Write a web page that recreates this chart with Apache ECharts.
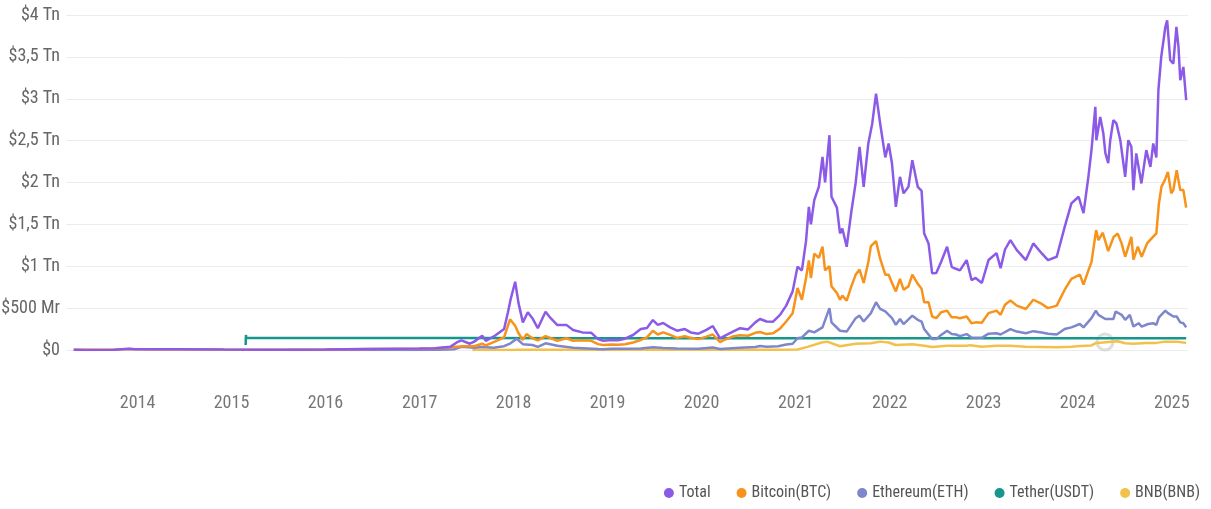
<!DOCTYPE html>
<html>
<head>
<meta charset="utf-8">
<script src="https://cdn.jsdelivr.net/npm/echarts@6/dist/echarts.min.js"></script>
<style>
  html, body { margin: 0; padding: 0; background: #ffffff; }
  #chart { width: 1211px; height: 509px; }
</style>
</head>
<body>
<div id="chart"></div>
<script>
// Values in billions of USD
var yTickLabels = ['$0', '$500 Mr', '$1 Tn', '$1,5 Tn', '$2 Tn', '$2,5 Tn', '$3 Tn', '$3,5 Tn', '$4 Tn'];
var seriesNames = ['Total', 'Bitcoin(BTC)', 'Ethereum(ETH)', 'Tether(USDT)', 'BNB(BNB)'];

var totalData = [
  ['2013-04-28', 1.6], ['2013-06-15', 1.3], ['2013-10-01', 1.8], ['2013-11-30', 15], ['2013-12-20', 9],
  ['2014-02-01', 10], ['2014-06-01', 9], ['2014-12-01', 5.5], ['2015-06-01', 3.8], ['2016-01-01', 7],
  ['2016-06-15', 13], ['2016-12-31', 17.5], ['2017-03-01', 22], ['2017-05-01', 40], ['2017-05-25', 90],
  ['2017-06-12', 115], ['2017-07-15', 75], ['2017-08-01', 100], ['2017-09-01', 170], ['2017-09-15', 110],
  ['2017-10-20', 170], ['2017-11-25', 250], ['2017-12-10', 450], ['2017-12-20', 600], ['2018-01-07', 815],
  ['2018-01-20', 560], ['2018-02-06', 330], ['2018-02-25', 450], ['2018-03-15', 380], ['2018-04-05', 260],
  ['2018-05-05', 457], ['2018-05-25', 380], ['2018-06-20', 298], ['2018-07-25', 300], ['2018-08-20', 238],
  ['2018-09-25', 210], ['2018-10-30', 205], ['2018-11-25', 130], ['2018-12-15', 110], ['2019-01-15', 120],
  ['2019-02-10', 115], ['2019-03-10', 135], ['2019-04-10', 179], ['2019-05-10', 250], ['2019-06-03', 262],
  ['2019-06-26', 358], ['2019-07-15', 300], ['2019-08-05', 322], ['2019-09-01', 270], ['2019-09-28', 230],
  ['2019-10-28', 250], ['2019-11-20', 210], ['2019-12-20', 195], ['2020-01-20', 240], ['2020-02-14', 286],
  ['2020-03-13', 140], ['2020-03-25', 160], ['2020-04-30', 215], ['2020-05-30', 260], ['2020-06-30', 245],
  ['2020-07-28', 330], ['2020-08-15', 370], ['2020-09-10', 340], ['2020-10-05', 338], ['2020-11-01', 420],
  ['2020-11-25', 530], ['2020-12-20', 700], ['2021-01-08', 994], ['2021-01-25', 950], ['2021-02-10', 1300],
  ['2021-02-21', 1710], ['2021-03-01', 1500], ['2021-03-14', 1790], ['2021-04-01', 1950], ['2021-04-15', 2306],
  ['2021-04-25', 2000], ['2021-05-12', 2565], ['2021-05-20', 1830], ['2021-06-10', 1700], ['2021-06-22', 1392],
  ['2021-07-01', 1450], ['2021-07-18', 1233], ['2021-08-05', 1650], ['2021-08-22', 2000], ['2021-09-06', 2426],
  ['2021-09-22', 1948], ['2021-10-10', 2466], ['2021-10-25', 2700], ['2021-11-09', 3062], ['2021-11-25', 2705],
  ['2021-12-15', 2300], ['2021-12-28', 2466], ['2022-01-10', 2227], ['2022-01-25', 1710], ['2022-02-10', 2068],
  ['2022-02-24', 1870], ['2022-03-15', 1950], ['2022-03-30', 2267], ['2022-04-20', 1948], ['2022-05-05', 1900],
  ['2022-05-15', 1392], ['2022-06-01', 1273], ['2022-06-15', 915], ['2022-07-01', 920], ['2022-07-20', 1054],
  ['2022-08-12', 1233], ['2022-08-30', 994], ['2022-09-15', 970], ['2022-10-01', 950], ['2022-10-27', 1074],
  ['2022-11-15', 835], ['2022-12-01', 860], ['2022-12-25', 800], ['2023-01-20', 1074], ['2023-02-20', 1157],
  ['2023-03-08', 978], ['2023-03-25', 1200], ['2023-04-15', 1312], ['2023-05-10', 1193], ['2023-06-14', 1074],
  ['2023-07-13', 1273], ['2023-08-15', 1153], ['2023-09-08', 1074], ['2023-10-12', 1113], ['2023-11-12', 1471],
  ['2023-12-08', 1750], ['2024-01-05', 1830], ['2024-01-24', 1634], ['2024-02-12', 2068], ['2024-02-24', 2386],
  ['2024-03-10', 2903], ['2024-03-14', 2505], ['2024-03-29', 2783], ['2024-04-10', 2588], ['2024-04-18', 2350],
  ['2024-04-29', 2230], ['2024-05-07', 2505], ['2024-05-19', 2744], ['2024-05-31', 2705], ['2024-06-15', 2505],
  ['2024-07-04', 2068], ['2024-07-16', 2505], ['2024-07-28', 2426], ['2024-08-05', 1909], ['2024-08-16', 2347],
  ['2024-09-05', 1989], ['2024-09-24', 2386], ['2024-10-10', 2187], ['2024-10-21', 2466], ['2024-11-02', 2300],
  ['2024-11-10', 3102], ['2024-11-21', 3500], ['2024-12-07', 3857], ['2024-12-14', 3937], ['2024-12-26', 3460],
  ['2025-01-07', 3420], ['2025-01-19', 3857], ['2025-01-27', 3620], ['2025-02-03', 3221], ['2025-02-15', 3380],
  ['2025-02-26', 2983]
];

var btcData = [
  ['2013-04-28', 1.5], ['2013-10-01', 1.6], ['2013-11-30', 13], ['2013-12-20', 8], ['2014-03-01', 7],
  ['2014-06-01', 8], ['2014-12-01', 5], ['2015-06-01', 3.5], ['2016-01-01', 6.5], ['2016-06-15', 11],
  ['2016-12-31', 15], ['2017-03-01', 19], ['2017-05-25', 40], ['2017-06-20', 45], ['2017-08-01', 45],
  ['2017-09-01', 75], ['2017-09-15', 55], ['2017-10-20', 100], ['2017-11-25', 150], ['2017-12-18', 366],
  ['2018-01-07', 290], ['2018-01-20', 200], ['2018-02-06', 120], ['2018-02-20', 190], ['2018-03-15', 140],
  ['2018-04-05', 115], ['2018-05-05', 165], ['2018-06-20', 110], ['2018-07-25', 140], ['2018-08-20', 110],
  ['2018-09-25', 115], ['2018-10-30', 110], ['2018-11-25', 70], ['2018-12-15', 60], ['2019-01-15', 65],
  ['2019-02-10', 63], ['2019-03-10', 68], ['2019-04-10', 90], ['2019-05-10', 120], ['2019-06-03', 150],
  ['2019-06-26', 230], ['2019-07-15', 185], ['2019-08-05', 210], ['2019-09-01', 180], ['2019-09-28', 145],
  ['2019-10-28', 165], ['2019-11-20', 145], ['2019-12-20', 130], ['2020-01-20', 160], ['2020-02-14', 185],
  ['2020-03-13', 95], ['2020-03-25', 115], ['2020-04-30', 160], ['2020-05-30', 175], ['2020-06-30', 170],
  ['2020-07-28', 205], ['2020-08-15', 215], ['2020-09-10', 190], ['2020-10-05', 200], ['2020-11-01', 255],
  ['2020-11-25', 340], ['2020-12-20', 440], ['2021-01-08', 740], ['2021-01-25', 600], ['2021-02-10', 860],
  ['2021-02-21', 1070], ['2021-03-01', 860], ['2021-03-14', 1150], ['2021-04-01', 1100], ['2021-04-15', 1233],
  ['2021-04-25', 950], ['2021-05-12', 1000], ['2021-05-20', 760], ['2021-06-10', 680], ['2021-06-22', 600],
  ['2021-07-01', 650], ['2021-07-18', 590], ['2021-08-05', 760], ['2021-08-22', 900], ['2021-09-06', 960],
  ['2021-09-22', 800], ['2021-10-10', 1050], ['2021-10-20', 1240], ['2021-11-09', 1300], ['2021-11-25', 1090],
  ['2021-12-15', 900], ['2021-12-28', 900], ['2022-01-10', 800], ['2022-01-25', 700], ['2022-02-10', 850],
  ['2022-02-24', 720], ['2022-03-15', 760], ['2022-03-30', 900], ['2022-04-20', 790], ['2022-05-05', 730],
  ['2022-05-15', 570], ['2022-06-01', 570], ['2022-06-15', 400], ['2022-07-01', 380], ['2022-07-20', 450],
  ['2022-08-12', 470], ['2022-08-30', 390], ['2022-09-15', 390], ['2022-10-01', 380], ['2022-10-27', 400],
  ['2022-11-15', 320], ['2022-12-01', 330], ['2022-12-25', 325], ['2023-01-20', 440], ['2023-02-20', 470],
  ['2023-03-08', 420], ['2023-03-25', 540], ['2023-04-15', 590], ['2023-05-10', 530], ['2023-06-14', 490],
  ['2023-07-13', 600], ['2023-08-15', 550], ['2023-09-08', 500], ['2023-10-12', 530], ['2023-11-12', 720],
  ['2023-12-08', 850], ['2024-01-10', 900], ['2024-01-24', 780], ['2024-02-12', 950], ['2024-02-24', 1050],
  ['2024-03-13', 1431], ['2024-03-22', 1312], ['2024-04-08', 1400], ['2024-04-29', 1180], ['2024-05-20', 1350],
  ['2024-06-05', 1390], ['2024-06-20', 1273], ['2024-07-04', 1113], ['2024-07-28', 1352], ['2024-08-05', 1080],
  ['2024-08-22', 1233], ['2024-09-06', 1113], ['2024-09-27', 1273], ['2024-10-20', 1350], ['2024-11-02', 1392],
  ['2024-11-12', 1750], ['2024-11-22', 1950], ['2024-12-05', 2028], ['2024-12-17', 2127], ['2024-12-30', 1870],
  ['2025-01-07', 1909], ['2025-01-20', 2147], ['2025-02-03', 1909], ['2025-02-15', 1909], ['2025-02-26', 1700]
];

var ethData = [
  ['2015-08-08', 0.2], ['2016-01-01', 0.1], ['2016-06-15', 1.1], ['2017-01-01', 0.8], ['2017-03-15', 3],
  ['2017-05-15', 9], ['2017-06-12', 38], ['2017-08-01', 28], ['2017-09-01', 37], ['2017-10-15', 28],
  ['2017-11-25', 45], ['2017-12-20', 80], ['2018-01-13', 135], ['2018-02-06', 70], ['2018-03-15', 60],
  ['2018-04-05', 38], ['2018-05-05', 80], ['2018-06-20', 50], ['2018-08-20', 28], ['2018-09-25', 22],
  ['2018-11-25', 12], ['2018-12-15', 9], ['2019-01-15', 14], ['2019-03-10', 14], ['2019-05-10', 18],
  ['2019-06-26', 33], ['2019-08-05', 24], ['2019-09-28', 19], ['2019-12-20', 14], ['2020-02-14', 30],
  ['2020-03-13', 13], ['2020-05-30', 27], ['2020-07-28', 36], ['2020-08-15', 48], ['2020-09-10', 40],
  ['2020-10-25', 45], ['2020-11-25', 65], ['2020-12-20', 75], ['2021-01-08', 140], ['2021-01-25', 150],
  ['2021-02-21', 230], ['2021-03-14', 210], ['2021-04-15', 270], ['2021-05-12', 500], ['2021-05-20', 330],
  ['2021-06-22', 230], ['2021-07-18', 220], ['2021-08-22', 380], ['2021-09-06', 410], ['2021-09-22', 340],
  ['2021-10-20', 440], ['2021-11-09', 570], ['2021-11-25', 490], ['2021-12-15', 460], ['2022-01-10', 380],
  ['2022-01-25', 300], ['2022-02-10', 370], ['2022-02-24', 310], ['2022-03-30', 410], ['2022-04-20', 360],
  ['2022-05-05', 340], ['2022-05-15', 250], ['2022-06-15', 130], ['2022-07-01', 130], ['2022-07-20', 180],
  ['2022-08-12', 230], ['2022-08-30', 190], ['2022-09-15', 185], ['2022-10-01', 165], ['2022-10-27', 190],
  ['2022-11-15', 150], ['2022-12-25', 145], ['2023-01-20', 195], ['2023-02-20', 200], ['2023-03-08', 185],
  ['2023-04-15', 250], ['2023-05-10', 220], ['2023-06-14', 200], ['2023-07-13', 225], ['2023-08-15', 210],
  ['2023-09-08', 195], ['2023-10-12', 185], ['2023-11-12', 250], ['2023-12-08', 270], ['2024-01-10', 310],
  ['2024-01-24', 270], ['2024-02-24', 380], ['2024-03-12', 470], ['2024-03-22', 420], ['2024-04-18', 370],
  ['2024-05-19', 370], ['2024-05-28', 460], ['2024-06-20', 420], ['2024-07-04', 360], ['2024-07-22', 420],
  ['2024-08-05', 280], ['2024-08-25', 320], ['2024-09-06', 280], ['2024-10-01', 310], ['2024-10-21', 320],
  ['2024-11-02', 300], ['2024-11-12', 390], ['2024-12-07', 470], ['2024-12-17', 440], ['2025-01-07', 400],
  ['2025-01-20', 400], ['2025-02-03', 330], ['2025-02-15', 320], ['2025-02-26', 270]
];

var usdtData = [
  ['2015-02-25', 60], ['2015-02-26', 180], ['2015-02-27', 142], ['2017-06-01', 142], ['2019-01-01', 141],
  ['2021-01-01', 140], ['2023-01-01', 139], ['2025-02-26', 139]
];

var bnbData = [
  ['2017-07-25', 0.1], ['2017-12-31', 1], ['2018-01-13', 2.5], ['2018-06-15', 1.5], ['2019-01-15', 1],
  ['2019-06-22', 5], ['2020-01-15', 2.5], ['2020-10-15', 4], ['2021-01-08', 6], ['2021-02-19', 40],
  ['2021-04-12', 90], ['2021-05-03', 100], ['2021-06-22', 45], ['2021-08-22', 75], ['2021-10-20', 80],
  ['2021-11-25', 100], ['2021-12-28', 90], ['2022-01-25', 60], ['2022-03-30', 70], ['2022-05-15', 50],
  ['2022-06-15', 35], ['2022-08-12', 50], ['2022-10-27', 50], ['2022-11-10', 58], ['2022-12-25', 40],
  ['2023-02-20', 50], ['2023-04-15', 52], ['2023-06-14', 38], ['2023-08-15', 35], ['2023-10-12', 32],
  ['2023-12-08', 40], ['2024-01-10', 48], ['2024-02-24', 55], ['2024-03-14', 85], ['2024-04-08', 90],
  ['2024-06-05', 105], ['2024-07-04', 80], ['2024-08-05', 75], ['2024-09-24', 85], ['2024-11-02', 85],
  ['2024-12-05', 100], ['2024-12-17', 98], ['2025-01-20', 100], ['2025-02-15', 90], ['2025-02-26', 88]
];

var colors = ['#8b5be8', '#f7931a', '#7e87cc', '#17968c', '#f3c04a'];
var FONT = "'Roboto Condensed', 'DejaVu Sans Condensed', 'Liberation Sans Narrow', 'Roboto', sans-serif";

var chart = echarts.init(document.getElementById('chart'), null, { renderer: 'canvas' });

function lineSeries(idx, data, z, width) {
  return {
    name: seriesNames[idx],
    type: 'line',
    data: data,
    showSymbol: false,
    symbol: 'none',
    z: z,
    lineStyle: { color: colors[idx], width: width },
    itemStyle: { color: colors[idx] },
    emphasis: { disabled: true }
  };
}

chart.setOption({
  animation: false,
  backgroundColor: '#ffffff',
  color: colors,
  grid: { left: 66, right: 23, top: 15, bottom: 159, containLabel: false, outerBoundsMode: 'none' },
  legend: {
    right: 6,
    top: 480,
    icon: 'circle',
    itemWidth: 10,
    itemHeight: 10,
    itemGap: 26,
    itemTextGap: 6,
    textStyle: { fontFamily: FONT, fontSize: 16, color: '#555' },
    data: seriesNames
  },
  xAxis: {
    type: 'time',
    min: '2013-03-29',
    max: '2025-03-05',
    minInterval: 365 * 24 * 3600 * 1000,
    maxInterval: 366 * 24 * 3600 * 1000,
    axisLine: { show: false },
    axisTick: { show: false },
    splitLine: { show: false },
    axisLabel: {
      margin: 44,
      showMinLabel: false,
      showMaxLabel: false,
      fontFamily: FONT,
      fontSize: 18,
      color: '#777',
      fontWeight: 'normal',
      formatter: function (v) {
        var d = new Date(v);
        if (d.getMonth() === 0 && d.getDate() === 1) return String(d.getFullYear());
        return '';
      }
    }
  },
  yAxis: {
    type: 'value',
    min: 0,
    max: 4000,
    interval: 500,
    axisLine: { show: false },
    axisTick: { show: false },
    splitLine: { lineStyle: { color: '#ececec', width: 1 } },
    axisLabel: {
      margin: 6,
      fontFamily: FONT,
      fontSize: 18,
      color: '#666',
      formatter: function (v) { return yTickLabels[Math.round(v / 500)]; }
    }
  },
  graphic: [{
    type: 'circle',
    shape: { cx: 1105, cy: 342, r: 8 },
    style: { fill: 'none', stroke: '#d0d0d0', lineWidth: 3, opacity: 0.7 },
    z: 1
  }],
  series: [
    lineSeries(0, totalData, 10, 2.5),
    lineSeries(1, btcData, 9, 2.5),
    lineSeries(2, ethData, 8, 2.5),
    lineSeries(3, usdtData, 7, 2.5),
    lineSeries(4, bnbData, 6, 2.5)
  ]
});
</script>
</body>
</html>
